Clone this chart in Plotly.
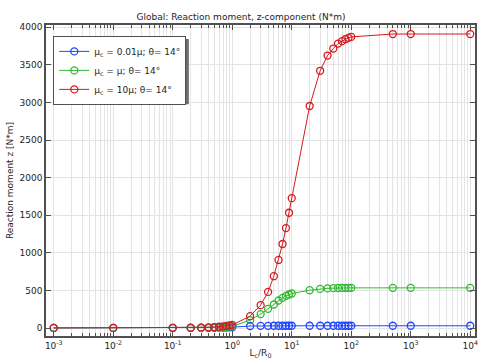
import plotly.graph_objects as go

x_vals = [0.001, 0.01, 0.1, 0.2, 0.3, 0.4, 0.5, 0.6, 0.7, 0.8, 0.9, 1,
          2, 3, 4, 5, 6, 7, 8, 9, 10,
          20, 30, 40, 50, 60, 70, 80, 90, 100, 500, 1000, 10000]

blue_vals = [2, 2, 2, 3, 3, 4, 5, 6, 7, 8, 9, 12,
             28, 30, 30, 31, 31, 31, 31, 31, 31,
             31, 31, 31, 31, 31, 31, 31, 31, 31, 31, 31, 31]

green_vals = [2, 2, 3, 4, 5, 7, 9, 11, 14, 17, 20, 25,
              106, 186, 256, 314, 367, 402, 429, 447, 460,
              504, 521, 528, 531, 533, 534, 535, 535, 535, 535, 535, 535]

red_vals = [3, 3, 4, 5, 7, 10, 14, 18, 23, 29, 35, 42,
            159, 305, 481, 690, 906, 1118, 1330, 1534, 1728,
            2953, 3421, 3624, 3717, 3783, 3815, 3841, 3859, 3872, 3910, 3910, 3910]

names = ["μ<sub>c</sub> = 0.01μ; θ= 14°",
         "μ<sub>c</sub> = μ; θ= 14°",
         "μ<sub>c</sub> = 10μ; θ= 14°"]
colors = ["rgb(30,70,255)", "rgb(50,185,50)", "rgb(215,25,30)"]

x_major = [0.001, 0.01, 0.1, 1, 10, 100, 1000, 10000]
x_major_text = ["10<sup>-3</sup>", "10<sup>-2</sup>", "10<sup>-1</sup>", "10<sup>0</sup>",
                "10<sup>1</sup>", "10<sup>2</sup>", "10<sup>3</sup>", "10<sup>4</sup>"]
x_minor = [m * 10 ** e for e in range(-3, 4) for m in range(2, 10)]
y_ticks = [0, 500, 1000, 1500, 2000, 2500, 3000, 3500, 4000]

fig = go.Figure()
for vals, name, col in zip([blue_vals, green_vals, red_vals], names, colors):
    fig.add_trace(go.Scatter(
        x=x_vals, y=vals, name=name, mode="lines+markers",
        line=dict(color=col, width=1),
        marker=dict(symbol="circle-open", size=7, color=col, line=dict(width=1.3, color=col)),
    ))

axis_col = "rgb(80,80,80)"
grid_col = "rgb(228,228,228)"
fig.update_layout(
    width=482, height=361,
    margin=dict(l=46, r=7, t=25, b=25, autoexpand=False),
    paper_bgcolor="white", plot_bgcolor="white",
    font=dict(family="DejaVu Sans", size=9, color="rgb(30,30,30)"),
    title=dict(text="Global: Reaction moment, z-component (N*m)", x=0.5, xanchor="center",
               y=0.962, yanchor="top", font=dict(size=9)),
    showlegend=True,
    legend=dict(x=0.017, y=0.965, xanchor="left", yanchor="top",
                bgcolor="white", bordercolor=axis_col, borderwidth=1,
                font=dict(size=9), tracegroupgap=0, itemwidth=30),
    shapes=[dict(type="rect", xref="paper", yref="paper",
                 x0=0.024, x1=0.333, y0=0.745, y1=0.955,
                 fillcolor="rgb(110,110,110)", line=dict(width=0), layer="above")],
)
fig.update_xaxes(
    type="log", range=[-3.13, 4.08],
    tickvals=x_major, ticktext=x_major_text,
    ticks="inside", ticklen=5, tickcolor=axis_col,
    showline=True, linecolor=axis_col, linewidth=1.5, mirror="ticks",
    showgrid=True, gridcolor=grid_col, gridwidth=1,
    minor=dict(tickvals=x_minor, ticks="inside", ticklen=3, tickcolor=axis_col,
               showgrid=True, gridcolor=grid_col, gridwidth=1),
    title=dict(text="L<sub>c</sub>/R<sub>0</sub>", standoff=0, font=dict(size=9)),
    zeroline=False, tickfont=dict(size=9), automargin=False,
)
fig.update_yaxes(
    range=[-105, 4030],
    tickvals=y_ticks,
    ticks="inside", ticklen=5, tickcolor=axis_col,
    showline=True, linecolor=axis_col, linewidth=1.5, mirror="ticks",
    showgrid=True, gridcolor=grid_col, gridwidth=1,
    title=dict(text="Reaction moment z [N*m]", standoff=4, font=dict(size=9)),
    zeroline=False, tickfont=dict(size=9), automargin=False,
)
fig.write_html("out.html", config={"displayModeBar": False},
               post_script="document.body.style.margin='0px';")
